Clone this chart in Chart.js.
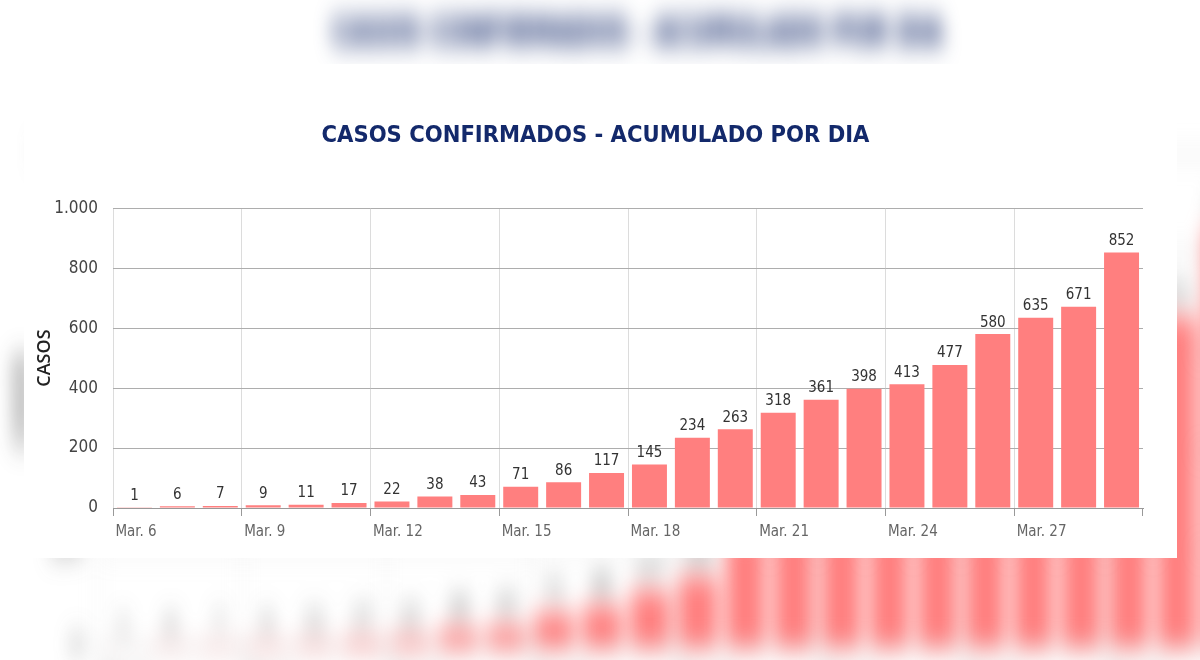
<!DOCTYPE html>
<html>
<head>
<meta charset="utf-8">
<script src="https://cdn.jsdelivr.net/npm/chart.js@4.4.1/dist/chart.umd.min.js"></script>
<style>
  html, body { margin: 0; padding: 0; background: #fff; }
  #stage { position: relative; width: 1200px; height: 660px; overflow: hidden; background: #fff; }
  /* blurred, stretched copy of the chart behind the white panel */
  #bgWrap { position: absolute; left: 0; top: 0; width: 1200px; height: 660px;
            transform-origin: 0 0; transform: translate(-27px, -189px) scale(1.116, 1.648);
            filter: blur(8px); }
  #panel { position: absolute; left: 24px; top: 64px; width: 1153px; height: 494px; background: #fff; }
  #mainWrap { position: absolute; left: 0; top: 0; width: 1200px; height: 660px; }
</style>
</head>
<body>
<div id="stage">
  <div id="bgWrap"><canvas id="bgChart" width="1200" height="660"></canvas></div>
  <div id="panel"></div>
  <div id="mainWrap"><canvas id="myChart" width="1200" height="660"></canvas></div>
</div>
<script>
const dias = ['Mar. 6', 'Mar. 7', 'Mar. 8', 'Mar. 9', 'Mar. 10', 'Mar. 11', 'Mar. 12', 'Mar. 13',
  'Mar. 14', 'Mar. 15', 'Mar. 16', 'Mar. 17', 'Mar. 18', 'Mar. 19', 'Mar. 20', 'Mar. 21',
  'Mar. 22', 'Mar. 23', 'Mar. 24', 'Mar. 25', 'Mar. 26', 'Mar. 27', 'Mar. 28', 'Mar. 29']
const casos = [1, 6, 7, 9, 11, 17, 22, 38, 43, 71, 86, 117, 145, 234, 263, 318, 361, 398, 413, 477, 580, 635, 671, 852]
const etiquetasX = ['Mar. 6', 'Mar. 9', 'Mar. 12', 'Mar. 15', 'Mar. 18', 'Mar. 21', 'Mar. 24', 'Mar. 27']
const titulo = 'CASOS CONFIRMADOS - ACUMULADO POR DIA'
const tituloY = 'CASOS'

const narrow = "'DejaVu Sans Condensed', 'Liberation Sans Narrow', sans-serif"

// numbers on top of the bars
const barLabels = {
    id: 'barLabels',
    afterDatasetsDraw(chart) {
        const ctx = chart.ctx
        const meta = chart.getDatasetMeta(0)
        ctx.save()
        ctx.font = "15px " + narrow
        ctx.fillStyle = '#333'
        ctx.textAlign = 'center'
        ctx.textBaseline = 'bottom'
        meta.data.forEach((bar, i) => {
            ctx.fillText(casos[i], bar.x, bar.y - 4)
        })
        ctx.restore()
    }
}

const miles = v => String(v).replace(/\B(?=(\d{3})+(?!\d))/g, '.')

const makeChart = (id) => {
    const ctx = document.getElementById(id)
    return new Chart(ctx, {
        type: 'bar',
        data: {
            labels: dias,
            datasets: [{
                label: tituloY,
                data: casos,
                backgroundColor: '#ff7f7f',
                borderWidth: 0,
                categoryPercentage: 1,
                barPercentage: 0.815
            }]
        },
        options: {
            responsive: false,
            animation: false,
            layout: { padding: { left: 48, right: 57, top: 0, bottom: 112 } },
            plugins: {
                legend: { display: false },
                tooltip: { enabled: false },
                title: {
                    display: true,
                    text: titulo,
                    color: '#13296b',
                    font: { family: narrow, size: 23.5, weight: 'bold' },
                    padding: { top: 122, bottom: 58 }
                }
            },
            scales: {
                x: {
                    offset: true,
                    grid: {
                        offset: true,
                        tickLength: 8,
                        color: c => (c.tick && c.tick.label !== '') ? '#dcdcdc' : 'transparent',
                        tickColor: c => (!c.tick || c.tick.label !== '') ? '#999' : 'transparent'
                    },
                    border: { display: true, color: '#999' },
                    ticks: {
                        autoSkip: false,
                        maxRotation: 0,
                        align: 'start',
                        labelOffset: -19,
                        padding: 7,
                        color: '#666',
                        font: { family: narrow, size: 15 },
                        callback: function (v) {
                            const l = this.getLabelForValue(v)
                            return etiquetasX.includes(l) ? l : ''
                        }
                    },
                    afterFit: s => { s.height = 40 }
                },
                y: {
                    min: 0,
                    max: 1000,
                    grid: { color: '#adadad', drawTicks: false },
                    border: { display: false },
                    ticks: {
                        stepSize: 200,
                        padding: 15,
                        color: '#444',
                        font: { family: narrow, size: 17 },
                        callback: v => miles(v)
                    },
                    title: {
                        display: true,
                        text: tituloY,
                        color: '#222',
                        font: { family: "'Open Sans', sans-serif", size: 18, weight: '600' },
                        padding: { top: -14, bottom: 0 }
                    },
                    afterFit: s => { s.width = 65 }
                }
            }
        },
        plugins: [barLabels]
    })
}

makeChart('bgChart')
makeChart('myChart')
</script>
</body>
</html>
